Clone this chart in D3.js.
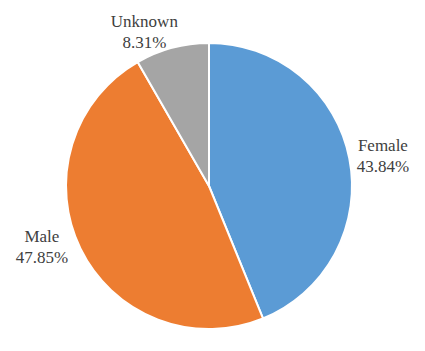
<!DOCTYPE html>
<html><head><meta charset="utf-8">
<script src="https://cdn.jsdelivr.net/npm/d3@7"></script>
<style>body{margin:0;background:#fff}</style>
</head><body>
<svg id="c" width="425" height="351"></svg>
<script>
const categories = ["Female", "Male", "Unknown"];
const values = [43.84, 47.85, 8.31];
const labels = ["43.84%", "47.85%", "8.31%"];
const colors = ["#5B9BD5", "#ED7D31", "#A5A5A5"];

const svg = d3.select("#c");
const cx = 209, cy = 186, r = 143;
const g = svg.append("g").attr("transform", `translate(${cx},${cy})`);
const pie = d3.pie().sort(null).value(d => d)(values);
const arc = d3.arc().innerRadius(0).outerRadius(r);
g.selectAll("path").data(pie).join("path")
  .attr("d", arc)
  .attr("fill", (d, i) => colors[i])
  .attr("stroke", "#fff").attr("stroke-width", 2);

const labelArc = d3.arc().innerRadius(r * 1.25).outerRadius(r * 1.25);
const offsets = [[-1.5, 3.5], [-6.5, -18], [-18.5, 17.5]];
pie.forEach((d, i) => {
  const [x, y] = labelArc.centroid(d);
  const px = cx + x + offsets[i][0], py = cy + y + offsets[i][1];
  svg.append("text")
    .attr("x", px).attr("y", py - 4)
    .attr("text-anchor", "middle")
    .attr("font-family", "Liberation Serif")
    .attr("font-size", 17)
    .attr("fill", "#404040")
    .text(categories[i]);
  svg.append("text")
    .attr("x", px).attr("y", py + 17)
    .attr("text-anchor", "middle")
    .attr("font-family", "Liberation Serif")
    .attr("font-size", 17)
    .attr("fill", "#404040")
    .text(labels[i]);
});
</script>
</body></html>
